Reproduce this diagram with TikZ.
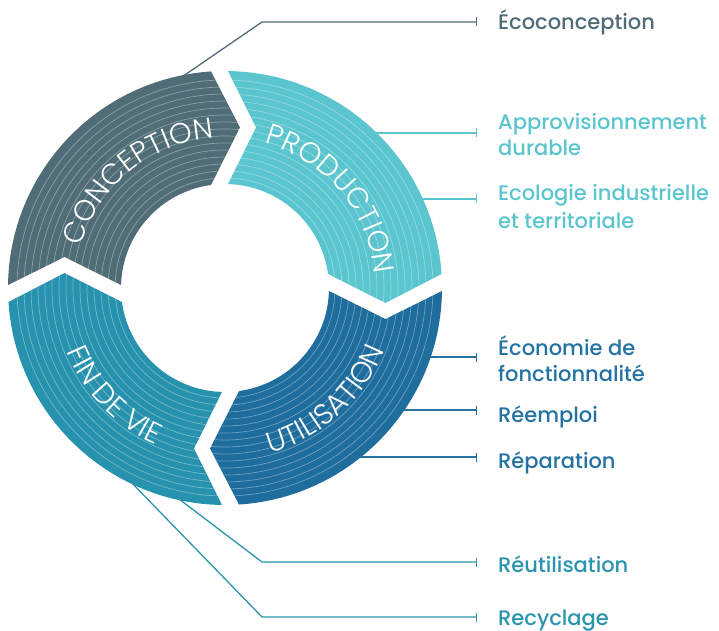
\documentclass[tikz,border=0pt]{standalone}
\usepackage{fontspec}
\setmainfont{Poppins}
\newfontfamily\ringfont{Poppins Light}
\newfontfamily\lblfont{Poppins Medium}
\usetikzlibrary{calc,decorations.text,arrows.meta}
\definecolor{cConc}{HTML}{4F6C77}
\definecolor{cProd}{HTML}{5AC5CE}
\definecolor{cUtil}{HTML}{1E6D9D}
\definecolor{cFin}{HTML}{2792AE}
\definecolor{tUtil}{HTML}{2372A3}
\definecolor{tFin}{HTML}{2A94AE}
\begin{document}
\begin{tikzpicture}[x=1pt,y=1pt,
  hatch/.style={white, opacity=0.35, line width=0.7pt},
  conn/.style={line width=1.3pt, -{Bar[width=9pt,line width=1.3pt]}},
  lbl/.style={anchor=base west, inner sep=0pt, font=\lblfont\fontsize{21}{24}\selectfont},
  ringtext/.style={decorate, decoration={text along path, text align=center, text color=white,
      text={|\ringfont\fontsize{29}{29}\selectfont|#1}}}
]
\useasboundingbox (0,0) rectangle (719,630);
\coordinate (C) at (225,342);

% connector anchor points
\coordinate (eRing) at (176,549);  \coordinate (eElb) at (262,608); \coordinate (eBar) at (477,608);
\coordinate (aRing) at (370,497);  \coordinate (aBar) at (477,497);
\coordinate (gRing) at (415,431);  \coordinate (gBar) at (477,431);
\coordinate (oRing) at (424,273);  \coordinate (oBar) at (477,273);
\coordinate (mRing) at (398,220);  \coordinate (mBar) at (477,220);
\coordinate (pRing) at (354,173);  \coordinate (pBar) at (477,173);
\coordinate (uRing) at (175,134);  \coordinate (uElb) at (262,68);  \coordinate (uBar) at (477,68);
\coordinate (rRing) at (128,151);  \coordinate (rElb) at (262,13);  \coordinate (rBar) at (477,13);

\draw[conn, cConc] (eRing) -- (eElb) -- (eBar);
\draw[conn, cProd] (aRing) -- (aBar);
\draw[conn, cProd] (gRing) -- (gBar);
\draw[conn, tUtil] (oRing) -- (oBar);
\draw[conn, tUtil] (mRing) -- (mBar);
\draw[conn, tUtil] (pRing) -- (pBar);
\draw[conn, tFin] (uRing) -- (uElb) -- (uBar);
\draw[conn, tFin] (rRing) -- (rElb) -- (rBar);

% ring segments
\foreach \a/\col in {180/cConc,90/cProd,0/cUtil,-90/cFin}{
  \pgfmathsetmacro\b{\a-90}
  \fill[\col] ($(C)+({\a-asin(3/217)}:217)$)
     arc[start angle={\a-asin(3/217)}, end angle={\b+asin(14/217)}, radius=217]
     -- ($(C)+(\b:160.5)+({\b-90}:15)$)
     -- ($(C)+({\b+asin(14/104)}:104)$)
     arc[start angle={\b+asin(14/104)}, end angle={\a-asin(3/104)}, radius=104]
     -- ($(C)+(\a:160.5)+({\a-90}:31)$) -- cycle;
  \begin{scope}
  \clip ($(C)+({\a-asin(3/217)}:217)$)
     arc[start angle={\a-asin(3/217)}, end angle={\b+asin(14/217)}, radius=217]
     -- ($(C)+(\b:160.5)+({\b-90}:15)$)
     -- ($(C)+({\b+asin(14/104)}:104)$)
     arc[start angle={\b+asin(14/104)}, end angle={\a-asin(3/104)}, radius=104]
     -- ($(C)+(\a:160.5)+({\a-90}:31)$) -- cycle;
  \foreach \r in {110,117,...,212} \draw[hatch] (C) circle[radius=\r];
  \end{scope}
}

% ring labels
\path[ringtext=CONCEPTION] ($(C)+(184:150)$) arc[start angle=184, end angle=74, radius=150];
\path[ringtext=PRODUCTION] ($(C)+(95:150)$) arc[start angle=95, end angle=-15, radius=150];
\path[ringtext=UTILISATION] ($(C)+(-103:171)$) arc[start angle=-103, end angle=7, radius=171];
\path[ringtext=FIN DE VIE] ($(C)+(169:171)$) arc[start angle=169, end angle=279, radius=171];

% right labels
\node[lbl, text=cConc] (eco) at (498,600) {Écoconception};
\node[lbl, text=cProd] (appro1) at (498,500) {Approvisionnement};
\node[lbl, text=cProd] (appro2) at (498,474) {durable};
\node[lbl, text=cProd] (ecol1) at (498,429) {Ecologie industrielle};
\node[lbl, text=cProd] (ecol2) at (498,402) {et territoriale};
\node[lbl, text=tUtil] (econ1) at (498,275) {Économie de};
\node[lbl, text=tUtil] (econ2) at (498,249) {fonctionnalité};
\node[lbl, text=tUtil] (reem) at (498,208) {Réemploi};
\node[lbl, text=tUtil] (repa) at (498,162) {Réparation};
\node[lbl, text=tFin] (reut) at (498,58) {Réutilisation};
\node[lbl, text=tFin] (recy) at (498,5) {Recyclage};
\end{tikzpicture}
\end{document}
